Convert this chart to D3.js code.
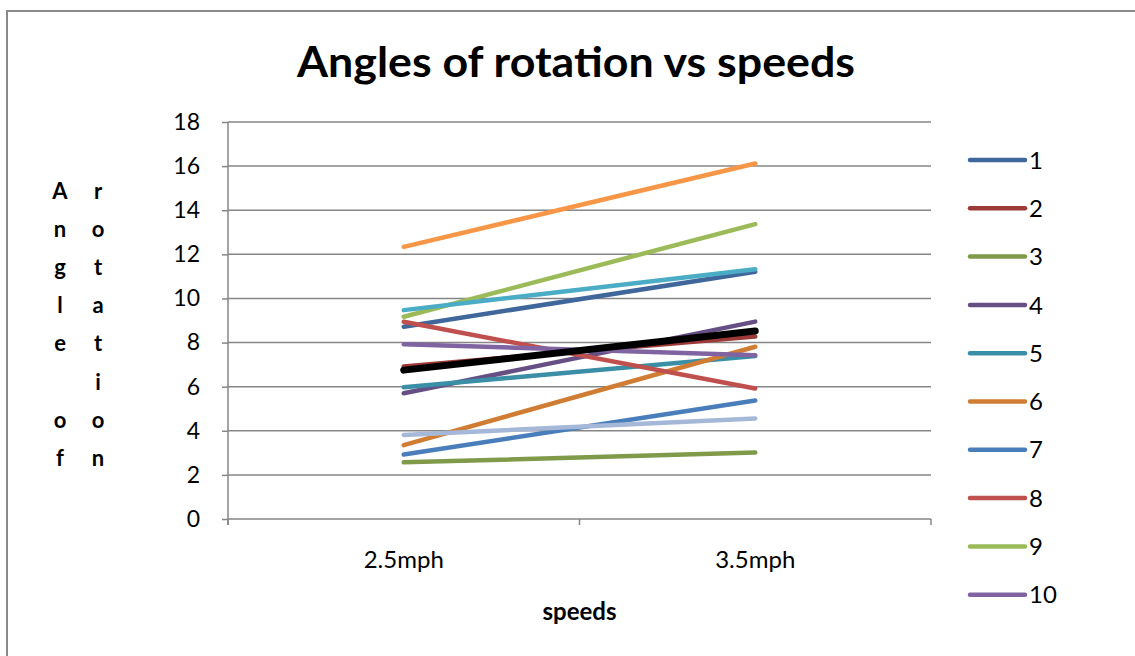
<!DOCTYPE html>
<html>
<head>
<meta charset="utf-8">
<script src="https://cdn.jsdelivr.net/npm/d3@7/dist/d3.min.js"></script>
<style>
  html, body { margin: 0; padding: 0; background: #fff; }
  svg { display: block; }
  text { font-family: Lato, "Open Sans", sans-serif; fill: #000; }
</style>
</head>
<body>
<svg id="chart" width="1135" height="656"></svg>
<script>
// Categories on the x axis
const speeds = ["2.5mph", "3.5mph"];

// One line per trial: angle of rotation at each speed
const seriesNames = ["1", "2", "3", "4", "5", "6", "7", "8", "9", "10", "11", "12", "13", "14"];
const s1  = [8.72, 11.21];
const s2  = [6.92, 8.27];
const s3  = [2.57, 3.01];
const s4  = [5.70, 8.95];
const s5  = [5.97, 7.39];
const s6  = [3.35, 7.81];
const s7  = [2.92, 5.37];
const s8  = [8.94, 5.92];
const s9  = [9.17, 13.37];
const s10 = [7.92, 7.43];
const s11 = [9.47, 11.32];
const s12 = [12.34, 16.12];
const s13 = [3.81, 4.56];
const s14 = [6.75, 8.52];
const seriesValues = [s1, s2, s3, s4, s5, s6, s7, s8, s9, s10, s11, s12, s13, s14];

const yTicks = [0, 2, 4, 6, 8, 10, 12, 14, 16, 18];

const colors = ["#3F679B", "#9D3A37", "#7F9A48", "#664F84", "#3A8EA5", "#D07C33",
                "#4A7EBB", "#C0504D", "#9BBB59", "#8064A2", "#4BACC6", "#F79646",
                "#A5B8D8", "#000000"];
const widths = [4.5, 4.5, 4.5, 4.5, 4.5, 4.5, 4.5, 4.5, 4.5, 4.5, 4.5, 4.5, 4.5, 7];

const svg = d3.select("#chart");
const gridColor = "#868686";

// Chart frame
svg.append("rect")
  .attr("x", 7).attr("y", 11)
  .attr("width", 1200).attr("height", 700)
  .attr("fill", "#fff")
  .attr("stroke", "#8a8a8a").attr("stroke-width", 2);

const plot = { left: 228, right: 931, top: 122, bottom: 519 };

const x = d3.scaleBand().domain(speeds).range([plot.left, plot.right]).padding(0);
const y = d3.scaleLinear().domain([0, 18]).range([plot.bottom, plot.top]);

// Horizontal gridlines
svg.append("g").selectAll("line").data(yTicks.filter(d => d > 0)).join("line")
  .attr("x1", plot.left).attr("x2", plot.right)
  .attr("y1", d => y(d)).attr("y2", d => y(d))
  .attr("stroke", gridColor).attr("stroke-width", 1.5);

// Value axis
const yAxis = svg.append("g")
  .attr("transform", `translate(${plot.left},0)`)
  .call(d3.axisLeft(y).tickValues(yTicks).tickSize(6).tickPadding(22));
yAxis.select(".domain").remove();
yAxis.selectAll(".tick line").attr("stroke", gridColor).attr("stroke-width", 1.5);
yAxis.selectAll(".tick text")
  .attr("font-size", 23).attr("font-family", "Lato, 'Open Sans', sans-serif")
  .attr("fill", "#000");
svg.append("line")
  .attr("x1", plot.left).attr("x2", plot.left)
  .attr("y1", plot.top).attr("y2", plot.bottom + 6)
  .attr("stroke", gridColor).attr("stroke-width", 1.5);

// Category axis: baseline, ticks between categories, labels
svg.append("line")
  .attr("x1", plot.left).attr("x2", plot.right)
  .attr("y1", plot.bottom).attr("y2", plot.bottom)
  .attr("stroke", gridColor).attr("stroke-width", 1.5);
const boundaries = speeds.map(s => x(s)).concat([x(speeds[speeds.length - 1]) + x.bandwidth()]);
svg.append("g").selectAll("line").data(boundaries).join("line")
  .attr("x1", d => d).attr("x2", d => d)
  .attr("y1", plot.bottom).attr("y2", plot.bottom + 6)
  .attr("stroke", gridColor).attr("stroke-width", 1.5);
svg.append("g").selectAll("text").data(speeds).join("text")
  .attr("x", d => x(d) + x.bandwidth() / 2)
  .attr("y", 568)
  .attr("text-anchor", "middle")
  .attr("font-size", 24)
  .text(d => d);

// Axis titles
svg.append("text")
  .attr("x", (plot.left + plot.right) / 2).attr("y", 620)
  .attr("text-anchor", "middle")
  .attr("font-size", 24).attr("font-weight", "bold")
  .text("speeds");

const leftCol = ["A", "n", "g", "l", "e", "", "o", "f"];
const rightCol = ["r", "o", "t", "a", "t", "i", "o", "n"];
const yTitle = svg.append("g").attr("font-size", 22).attr("font-weight", "bold");
[[leftCol, 60], [rightCol, 98]].forEach(([letters, cx]) => {
  yTitle.append("g").selectAll("text").data(letters).join("text")
    .attr("x", cx).attr("y", (d, i) => 199 + 38.1 * i)
    .attr("text-anchor", "middle")
    .text(d => d);
});

// Chart title
const title = svg.append("text")
  .attr("x", 576).attr("y", 77)
  .attr("text-anchor", "middle")
  .attr("font-size", 42).attr("font-weight", "bold")
  .text("Angles of rotation vs speeds");
const tw = title.node().getComputedTextLength();
if (Math.abs(tw - 558) > 4) {
  title.attr("textLength", 558).attr("lengthAdjust", "spacingAndGlyphs");
}

// Series lines
const line = d3.line()
  .x((d, i) => x(speeds[i]) + x.bandwidth() / 2)
  .y(d => y(d));
svg.append("g").selectAll("path").data(seriesValues).join("path")
  .attr("d", d => line(d))
  .attr("fill", "none")
  .attr("stroke", (d, i) => colors[i])
  .attr("stroke-width", (d, i) => widths[i])
  .attr("stroke-linecap", "round");

// Legend (first ten series)
const legend = svg.append("g");
const rows = legend.selectAll("g").data(seriesNames.slice(0, 10)).join("g")
  .attr("transform", (d, i) => `translate(0,${160 + 48.3 * i})`);
rows.append("line")
  .attr("x1", 970).attr("x2", 1025)
  .attr("stroke", (d, i) => colors[i])
  .attr("stroke-width", 4.5)
  .attr("stroke-linecap", "round");
rows.append("text")
  .attr("x", 1029).attr("dy", "0.36em")
  .attr("font-size", 24)
  .text(d => d);
</script>
</body>
</html>
